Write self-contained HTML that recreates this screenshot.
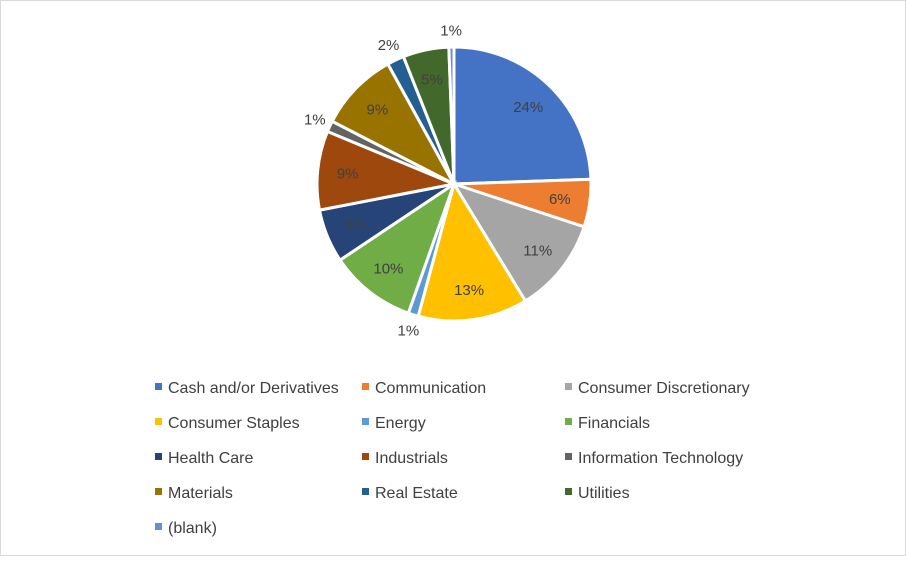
<!DOCTYPE html>
<html><head><meta charset="utf-8"><style>
html,body{margin:0;padding:0;background:#fff;}
#wrap{position:relative;width:906px;height:556px;}
svg text{font-family:"Liberation Sans",sans-serif;}
</style></head><body>
<div id="wrap">
<svg id="chart" width="906" height="556" xmlns="http://www.w3.org/2000/svg">
<rect x="0.5" y="0.5" width="905" height="555" fill="#fff" stroke="#d9d9d9"/>
<g id="slices"></g><g id="labels"></g><g id="legend"></g>
</svg>
</div>
<script>
const categories=["Cash and/or Derivatives","Communication","Consumer Discretionary","Consumer Staples","Energy","Financials","Health Care","Industrials","Information Technology","Materials","Real Estate","Utilities","(blank)"];
const values=[24.4,5.6,11.2,12.9,1.2,10.2,6.3,9.3,1.3,9.4,2.0,5.4,0.6];
const colors=["#4472c4","#ed7d31","#a5a5a5","#ffc000","#5b9bd5","#70ad47","#264478","#9e480e","#636363","#997300","#255e91","#43682b","#698ed0"];
const NS="http://www.w3.org/2000/svg";
const cx=454,cy=184,R=137;
const total=values.reduce((a,b)=>a+b,0);
function pt(a,r){return [cx+r*Math.sin(a),cy-r*Math.cos(a)];}
const gS=document.getElementById('slices'),gL=document.getElementById('labels'),gG=document.getElementById('legend');
let acc=0;
values.forEach((v,i)=>{
  const a0=acc/total*2*Math.PI; acc+=v; const a1=acc/total*2*Math.PI;
  const p0=pt(a0,R),p1=pt(a1,R);
  const large=(a1-a0)>Math.PI?1:0;
  const path=document.createElementNS(NS,'path');
  path.setAttribute('d',`M${cx},${cy}L${p0[0]},${p0[1]}A${R},${R} 0 ${large} 1 ${p1[0]},${p1[1]}Z`);
  path.setAttribute('fill',colors[i]);path.setAttribute('stroke','#fff');path.setAttribute('stroke-width','3');
  
  
  gS.appendChild(path);
  const pct=Math.round(v/total*100);
  const mid=(a0+a1)/2;
  const small=v/total<0.03;
  const lp=pt(mid,small?R*1.12:R*0.78);
  const t=document.createElementNS(NS,'text');
  t.setAttribute('x',lp[0]);t.setAttribute('y',lp[1]+5);t.setAttribute('text-anchor','middle');
  t.setAttribute('font-size','15');t.setAttribute('fill','#404040');
  t.textContent=pct+'%';
  
  
  gL.appendChild(t);
});
const colX=[155,362,565];
categories.forEach((c,i)=>{
  const x=colX[i%3],y=387+Math.floor(i/3)*35;
  const g=document.createElementNS(NS,'g');
  
  
  const r=document.createElementNS(NS,'rect');
  r.setAttribute('x',x);r.setAttribute('y',y-4);r.setAttribute('width',7);r.setAttribute('height',7);r.setAttribute('fill',colors[i]);
  const t=document.createElementNS(NS,'text');
  t.setAttribute('x',x+13);t.setAttribute('y',y+6);t.setAttribute('font-size','16');t.setAttribute('fill','#404040');
  t.textContent=c;
  g.appendChild(r);g.appendChild(t);gG.appendChild(g);
});
</script>
</body></html>
